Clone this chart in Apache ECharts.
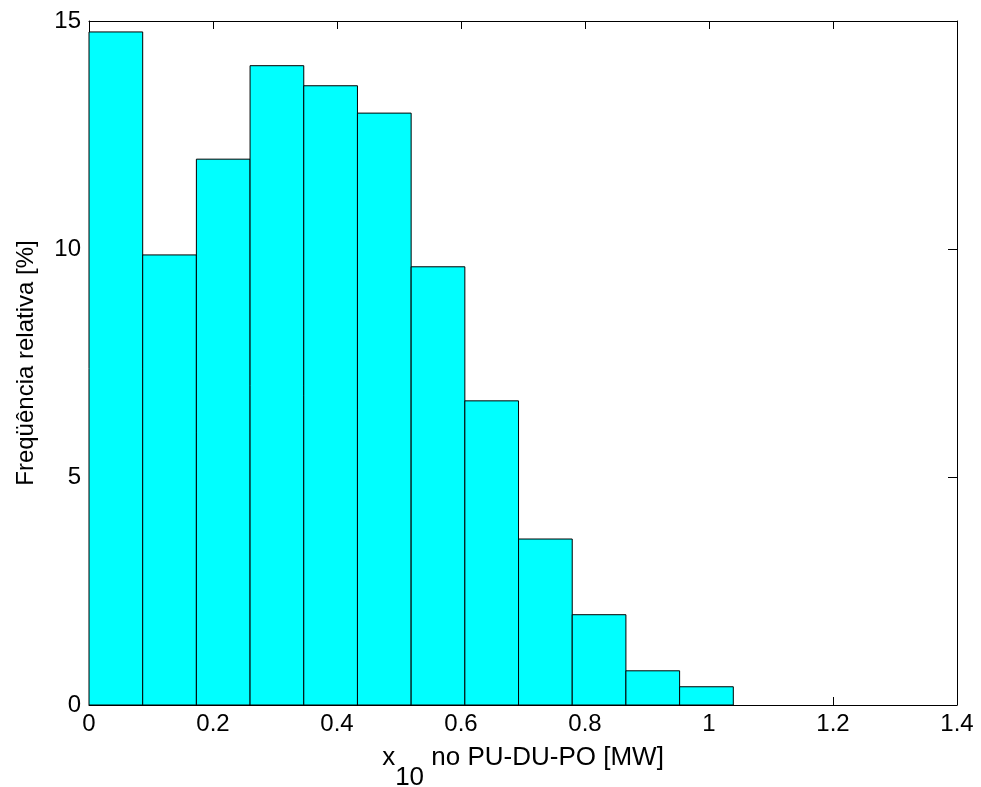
<!DOCTYPE html>
<html>
<head>
<meta charset="utf-8">
<script src="https://cdn.jsdelivr.net/npm/echarts@6/dist/echarts.min.js"></script>
<style>html,body{margin:0;padding:0;background:#fff;}#chart{width:981px;height:787px;}</style>
</head>
<body>
<div id="chart"></div>
<script>
// Histogram bin edges (MW) and relative frequencies (%)
const binEdges = [0, 0.0866, 0.1732, 0.2598, 0.3464, 0.4330, 0.5196, 0.6062, 0.6928, 0.7794, 0.8660, 0.9526, 1.0392];
const frequencies = [14.76, 9.87, 11.97, 14.02, 13.58, 12.98, 9.61, 6.67, 3.64, 1.98, 0.75, 0.40];
const xTicks = [0, 0.2, 0.4, 0.6, 0.8, 1, 1.2, 1.4];
const yTicks = [0, 5, 10, 15];

const data = frequencies.map((v, i) => [binEdges[i], binEdges[i + 1], v]);

const chart = echarts.init(document.getElementById('chart'), null, {renderer: 'canvas'});
const font = 'Liberation Sans, Arial, sans-serif';
const axisLineStyle = {color: '#000', width: 1};

chart.setOption({
  animation: false,
  backgroundColor: '#fff',
  grid: {left: 89, right: 24, top: 21, bottom: 82, outerBoundsMode: 'none', containLabel: false},
  xAxis: [{
    type: 'value', min: 0, max: 1.4, interval: 0.2, position: 'bottom',
    axisLine: {show: true, onZero: false, lineStyle: axisLineStyle},
    axisTick: {show: true, inside: true, length: 8, lineStyle: axisLineStyle},
    splitLine: {show: false},
    axisLabel: {color: '#000', fontSize: 24, fontFamily: font, margin: 7,
      formatter: v => String(+v.toFixed(1))},
    name: '{a|x}{sub|10}{a| no PU-DU-PO [MW]}',
    nameLocation: 'middle', nameGap: 40,
    nameTextStyle: {
      color: '#000', fontFamily: font,
      rich: {
        a: {fontSize: 26, fontFamily: font, color: '#000', lineHeight: 30, verticalAlign: 'top'},
        sub: {fontSize: 26, fontFamily: font, color: '#000', lineHeight: 46, verticalAlign: 'bottom'}
      }
    }
  }, {
    type: 'value', min: 0, max: 1.4, interval: 0.2, position: 'top',
    axisLine: {show: true, onZero: false, lineStyle: axisLineStyle},
    axisTick: {show: true, inside: true, length: 8, lineStyle: axisLineStyle},
    splitLine: {show: false}, axisLabel: {show: false}
  }],
  yAxis: [{
    type: 'value', min: 0, max: 15, interval: 5, position: 'left',
    axisLine: {show: true, onZero: false, lineStyle: axisLineStyle},
    axisTick: {show: true, inside: true, length: 9, lineStyle: axisLineStyle},
    splitLine: {show: false},
    axisLabel: {color: '#000', fontSize: 24, fontFamily: font, margin: 8},
    name: 'Freqüência relativa [%]', nameLocation: 'middle', nameGap: 51,
    nameTextStyle: {color: '#000', fontSize: 24, fontFamily: font}
  }, {
    type: 'value', min: 0, max: 15, interval: 5, position: 'right',
    axisLine: {show: true, onZero: false, lineStyle: axisLineStyle},
    axisTick: {show: true, inside: true, length: 9, lineStyle: axisLineStyle},
    splitLine: {show: false}, axisLabel: {show: false}
  }],
  series: [{
    type: 'custom',
    xAxisIndex: 0, yAxisIndex: 0,
    data: data,
    encode: {x: [0, 1], y: 2},
    renderItem: function (params, api) {
      const p0 = api.coord([api.value(0), 0]);
      const p1 = api.coord([api.value(1), api.value(2)]);
      return {
        type: 'rect',
        shape: {x: p0[0], y: p1[1], width: p1[0] - p0[0], height: p0[1] - p1[1]},
        style: {fill: '#00FFFF', stroke: '#000', lineWidth: 1}
      };
    }
  }]
});
</script>
</body>
</html>
